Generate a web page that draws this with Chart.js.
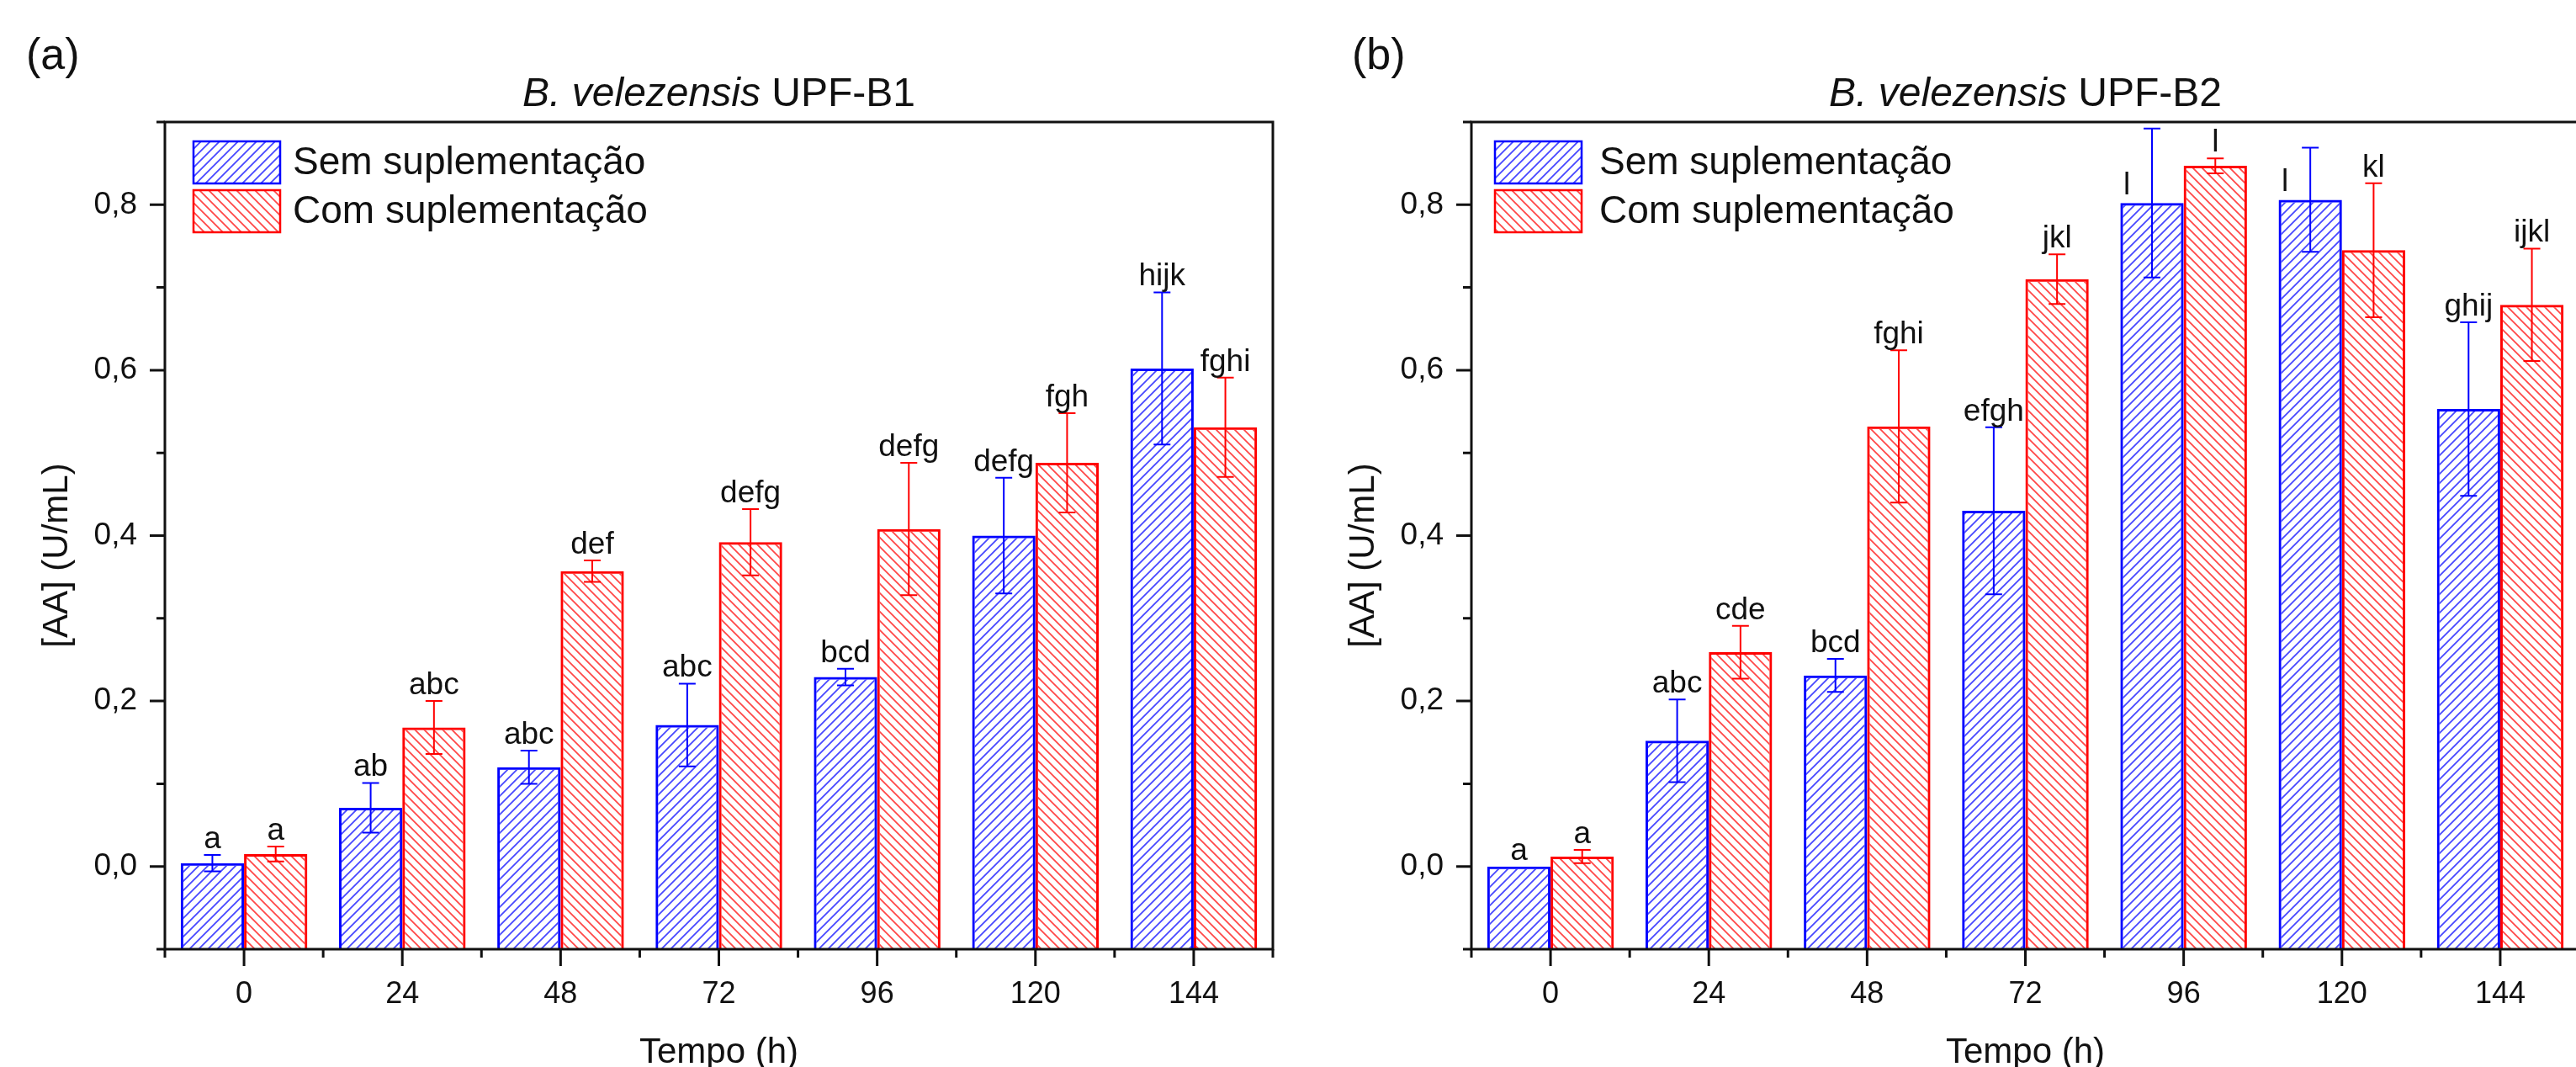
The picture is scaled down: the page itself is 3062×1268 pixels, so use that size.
<!DOCTYPE html>
<html lang="pt">
<head>
    <meta charset="UTF-8">
    <title>Atividade amilolítica - B. velezensis</title>
    <script src="https://cdn.jsdelivr.net/npm/chart.js@4"></script>
    <style>
        html, body {
            margin: 0;
            padding: 0;
            background: #fff;
            overflow: hidden;
        }
        body {
            width: 3062px;
            height: 1268px;
            position: relative;
        }
        .panel {
            position: absolute;
            top: 0;
            width: 1560px;
            height: 1268px;
        }
        #panelA { left: 0; }
        #panelB { left: 1560px; }
    </style>
</head>
<body>

    <div class="panel" id="panelA"><canvas id="chartA"></canvas></div>
    <div class="panel" id="panelB"><canvas id="chartB"></canvas></div>

    <script>
        // Tempo de cultivo (h)
        const tempos = ["0", "24", "48", "72", "96", "120", "144"];
        const yTicks = [0, 0.2, 0.4, 0.6, 0.8];
        const yMinorTicks = [-0.1, 0.1, 0.3, 0.5, 0.7, 0.9];

        // B. velezensis UPF-B1
        const b1Sem = [0.004, 0.071, 0.120, 0.171, 0.229, 0.400, 0.602];
        const b1SemErr = [0.010, 0.030, 0.020, 0.050, 0.010, 0.070, 0.092];
        const b1SemLetras = ["a", "ab", "abc", "abc", "bcd", "defg", "hijk"];
        const b1Com = [0.015, 0.168, 0.357, 0.392, 0.408, 0.488, 0.531];
        const b1ComErr = [0.009, 0.032, 0.013, 0.040, 0.080, 0.060, 0.060];
        const b1ComLetras = ["a", "abc", "def", "defg", "defg", "fgh", "fghi"];

        // B. velezensis UPF-B2
        const b2Sem = [0.000, 0.152, 0.231, 0.430, 0.802, 0.806, 0.553];
        const b2SemErr = [0.000, 0.050, 0.020, 0.101, 0.090, 0.063, 0.105];
        const b2SemLetras = ["a", "abc", "bcd", "efgh", "l", "l", "ghij"];
        const b2Com = [0.012, 0.259, 0.532, 0.710, 0.847, 0.745, 0.679];
        const b2ComErr = [0.008, 0.032, 0.092, 0.030, 0.009, 0.081, 0.068];
        const b2ComLetras = ["a", "cde", "fghi", "jkl", "l", "kl", "ijkl"];

        const FONTE = '"Liberation Sans", Arial, sans-serif';
        const PRETO = '#111';
        const AZUL = '#0000ff';
        const VERMELHO = '#ff0000';

        // Hachura diagonal ("/" para sentido 1, "\" para -1)
        function hachura(ctx, cor, sentido) {
            const s = 11;
            const c = document.createElement('canvas');
            c.width = s;
            c.height = s;
            const g = c.getContext('2d');
            g.strokeStyle = cor;
            g.lineWidth = 1.8;
            g.beginPath();
            if (sentido > 0) {
                g.moveTo(-2, s + 2); g.lineTo(s + 2, -2);
                g.moveTo(-2, 2); g.lineTo(2, -2);
                g.moveTo(s - 2, s + 2); g.lineTo(s + 2, s - 2);
            } else {
                g.moveTo(-2, -2); g.lineTo(s + 2, s + 2);
                g.moveTo(s - 2, -2); g.lineTo(s + 2, 2);
                g.moveTo(-2, s - 2); g.lineTo(2, s + 2);
            }
            g.stroke();
            return ctx.createPattern(c, 'repeat');
        }

        // Barras de erro e letras de significância
        const errosPlugin = {
            id: 'erros',
            afterDatasetsDraw(chart) {
                const ctx = chart.ctx;
                const y = chart.scales.y;
                ctx.save();
                chart.data.datasets.forEach((ds, di) => {
                    const meta = chart.getDatasetMeta(di);
                    meta.data.forEach((bar, i) => {
                        const v = ds.data[i];
                        const e = ds.erros[i];
                        const yTop = y.getPixelForValue(v + e);
                        const yBot = y.getPixelForValue(v - e);
                        ctx.strokeStyle = ds.borderColor;
                        ctx.lineWidth = 2;
                        if (e > 0) {
                            ctx.beginPath();
                            ctx.moveTo(bar.x, yTop); ctx.lineTo(bar.x, yBot);
                            ctx.moveTo(bar.x - 10, yTop); ctx.lineTo(bar.x + 10, yTop);
                            ctx.moveTo(bar.x - 10, yBot); ctx.lineTo(bar.x + 10, yBot);
                            ctx.stroke();
                        }
                        ctx.fillStyle = PRETO;
                        ctx.font = '37px ' + FONTE;
                        ctx.textAlign = 'center';
                        ctx.textBaseline = 'alphabetic';
                        if ((ds.letrasAoLado || []).includes(i)) {
                            ctx.fillText(ds.letras[i], bar.x - 30, y.getPixelForValue(v) - 10);
                        } else {
                            ctx.fillText(ds.letras[i], bar.x, yTop - 8);
                        }
                    });
                });
                ctx.restore();
            }
        };

        // Moldura, marcas dos eixos, títulos e legenda
        const molduraPlugin = {
            id: 'moldura',
            afterDraw(chart, args, opts) {
                const ctx = chart.ctx;
                const { left, right, top, bottom } = chart.chartArea;
                const x = chart.scales.x;
                const y = chart.scales.y;
                ctx.save();
                ctx.strokeStyle = PRETO;
                ctx.lineWidth = 3;
                ctx.strokeRect(left, top, right - left, bottom - top);

                ctx.beginPath();
                yTicks.forEach(v => {
                    const py = y.getPixelForValue(v);
                    ctx.moveTo(left - 18, py); ctx.lineTo(left, py);
                });
                yMinorTicks.forEach(v => {
                    const py = y.getPixelForValue(v);
                    ctx.moveTo(left - 10, py); ctx.lineTo(left, py);
                });
                const p0 = x.getPixelForValue(0);
                const passo = x.getPixelForValue(1) - p0;
                tempos.forEach((t, i) => {
                    const px = x.getPixelForValue(i);
                    ctx.moveTo(px, bottom); ctx.lineTo(px, bottom + 20);
                });
                for (let i = 0; i <= tempos.length; i++) {
                    const px = p0 + (i - 0.5) * passo;
                    ctx.moveTo(px, bottom); ctx.lineTo(px, bottom + 10);
                }
                ctx.stroke();

                // letra do painel
                ctx.fillStyle = PRETO;
                ctx.textBaseline = 'alphabetic';
                ctx.textAlign = 'left';
                ctx.font = '52px ' + FONTE;
                ctx.fillText(opts.painel, opts.painelX, 82);

                // título com nome da espécie em itálico
                const cx = (left + right) / 2;
                ctx.font = 'italic 48px ' + FONTE;
                const w1 = ctx.measureText(opts.especie).width;
                ctx.font = '48px ' + FONTE;
                const w2 = ctx.measureText(opts.cepa).width;
                let tx = cx - (w1 + w2) / 2;
                ctx.font = 'italic 48px ' + FONTE;
                ctx.fillText(opts.especie, tx, 126);
                ctx.font = '48px ' + FONTE;
                ctx.fillText(opts.cepa, tx + w1, 126);

                // títulos dos eixos
                ctx.font = '42px ' + FONTE;
                ctx.textAlign = 'center';
                ctx.fillText('Tempo (h)', cx, 1263);
                ctx.save();
                ctx.translate(left - 128, 660);
                ctx.rotate(-Math.PI / 2);
                ctx.textBaseline = 'middle';
                ctx.fillText('[AA] (U/mL)', 0, 0);
                ctx.restore();

                // legenda
                ctx.textAlign = 'left';
                ctx.textBaseline = 'middle';
                ctx.font = '46px ' + FONTE;
                chart.data.datasets.forEach((ds, di) => {
                    const by = 168 + di * 58;
                    const bx = left + opts.legendaX;
                    ctx.fillStyle = ds.backgroundColor;
                    ctx.fillRect(bx, by, 103, 50);
                    ctx.strokeStyle = ds.borderColor;
                    ctx.lineWidth = 2.5;
                    ctx.strokeRect(bx, by, 103, 50);
                    ctx.fillStyle = PRETO;
                    ctx.fillText(ds.label, left + 152, by + 26);
                });
                ctx.restore();
            }
        };

        function criarGrafico(id, sem, semErr, semLetras, com, comErr, comLetras, extras) {
            const ctx = document.getElementById(id).getContext('2d');
            return new Chart(ctx, {
                type: 'bar',
                data: {
                    labels: tempos,
                    datasets: [
                        {
                            label: 'Sem suplementação',
                            data: sem,
                            erros: semErr,
                            letras: semLetras,
                            letrasAoLado: extras.ladoSem,
                            backgroundColor: hachura(ctx, 'rgba(40, 40, 255, 0.85)', 1),
                            borderColor: AZUL,
                            borderWidth: 3,
                            base: -0.1,
                            categoryPercentage: 0.8,
                            barPercentage: 1.0
                        },
                        {
                            label: 'Com suplementação',
                            data: com,
                            erros: comErr,
                            letras: comLetras,
                            letrasAoLado: [],
                            backgroundColor: hachura(ctx, 'rgba(255, 40, 40, 0.85)', -1),
                            borderColor: VERMELHO,
                            borderWidth: 3,
                            base: -0.1,
                            categoryPercentage: 0.8,
                            barPercentage: 1.0
                        }
                    ]
                },
                options: {
                    responsive: true,
                    maintainAspectRatio: false,
                    animation: false,
                    layout: {
                        padding: { left: 0, right: extras.direita, top: 145, bottom: 0 }
                    },
                    plugins: {
                        legend: { display: false },
                        title: { display: false },
                        tooltip: { enabled: false },
                        moldura: {
                            painel: extras.painel,
                            painelX: extras.painelX,
                            especie: 'B. velezensis',
                            cepa: extras.cepa,
                            legendaX: extras.legendaX
                        }
                    },
                    scales: {
                        x: {
                            type: 'category',
                            offset: true,
                            grid: { display: false, drawTicks: false },
                            border: { display: false },
                            ticks: {
                                color: PRETO,
                                font: { size: 36, family: FONTE },
                                padding: 32,
                                autoSkip: false,
                                maxRotation: 0
                            },
                            afterFit: s => { s.height = 140; }
                        },
                        y: {
                            min: -0.1,
                            max: 0.9,
                            grid: { display: false, drawTicks: false },
                            border: { display: false },
                            afterBuildTicks: s => { s.ticks = yTicks.map(v => ({ value: v })); },
                            ticks: {
                                color: PRETO,
                                font: { size: 37, family: FONTE },
                                padding: 33,
                                callback: v => v.toFixed(1).replace('.', ',')
                            },
                            afterFit: s => { s.width = extras.eixoY; }
                        }
                    }
                },
                plugins: [errosPlugin, molduraPlugin]
            });
        }

        criarGrafico('chartA', b1Sem, b1SemErr, b1SemLetras, b1Com, b1ComErr, b1ComLetras,
            { painel: '(a)', painelX: 31, cepa: ' UPF-B1', eixoY: 196, direita: 47, legendaX: 34, ladoSem: [] });
        criarGrafico('chartB', b2Sem, b2SemErr, b2SemLetras, b2Com, b2ComErr, b2ComLetras,
            { painel: '(b)', painelX: 47, cepa: ' UPF-B2', eixoY: 189, direita: 54, legendaX: 28, ladoSem: [4, 5] });
    </script>

</body>
</html>
